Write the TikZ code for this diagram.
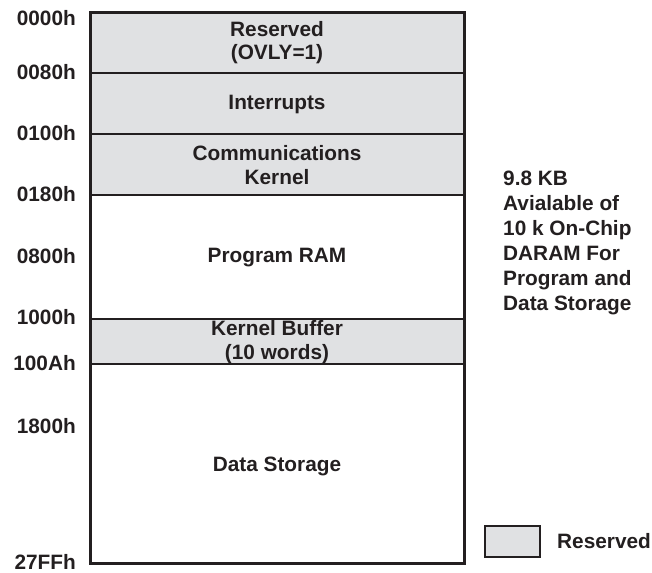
\documentclass[tikz,border=0pt]{standalone}
\usepackage{fontspec}
\setmainfont{Liberation Sans}
\definecolor{resgray}{RGB}{224,225,227}
\definecolor{ink}{RGB}{35,31,32}
\tikzset{
  lbl/.style={font=\bfseries\fontsize{20.8}{23.3}\selectfont, text=ink, inner sep=0pt},
  addr/.style={lbl, anchor=base east},
  region/.style={lbl, anchor=base, align=center},
  divider/.style={draw=ink, line width=1.8pt},
}
\begin{document}
\begin{tikzpicture}[x=1pt,y=-1pt]
\useasboundingbox (0,0) rectangle (652,572);
% fills
\fill[resgray] (90.5,12.5) rectangle (464,195);
\fill[resgray] (90.5,319) rectangle (464,364);
% dividers
\coordinate (tl) at (90.5,12.5);
\coordinate (br) at (464,563);
\draw[divider] (90.5,73) -- (464,73);
\draw[divider, line width=1.5pt] (90.5,134) -- (464,134);
\draw[divider] (90.5,195) -- (464,195);
\draw[divider] (90.5,319) -- (464,319);
\draw[divider] (90.5,364) -- (464,364);
\draw[draw=ink, line width=3pt] (tl) rectangle (br);
% addresses
\node[addr] (a0) at (76,25.5) {0000h};
\node[addr] (a1) at (76,79.5) {0080h};
\node[addr] (a2) at (76,140.5) {0100h};
\node[addr] (a3) at (76,201.5) {0180h};
\node[addr] (a4) at (76,263.5) {0800h};
\node[addr] (a5) at (76,324.5) {1000h};
\node[addr] (a6) at (76,370.5) {100Ah};
\node[addr] (a7) at (76,433.5) {1800h};
\node[addr] (a8) at (76,569) {27FFh};
% region labels (base = baseline of last line)
\node[region] (r1) at (277,60) {Reserved\\(OVLY=1)};
\node[region] (r2) at (277,109.5) {Interrupts};
\node[region] (r3) at (277,184) {Communications\\Kernel};
\node[region] (r4) at (277,262) {Program RAM};
\node[region] (r5) at (277,359) {Kernel Buffer\\(10 words)};
\node[region] (r6) at (277,471) {Data Storage};
% side note
\node[lbl, anchor=base west, align=left, font=\bfseries\fontsize{20.8}{25}\selectfont] (note) at (503,310.5)
  {9.8 KB\\Avialable of\\10 k On-Chip\\DARAM For\\Program and\\Data Storage};
% legend
\node[draw=ink, fill=resgray, line width=1.5pt, minimum width=55pt, minimum height=31pt, inner sep=0pt] (leg) at (512.5,541.5) {};
\node[lbl, anchor=base west] (legt) at (557,548.5) {Reserved};
\end{tikzpicture}
\end{document}
